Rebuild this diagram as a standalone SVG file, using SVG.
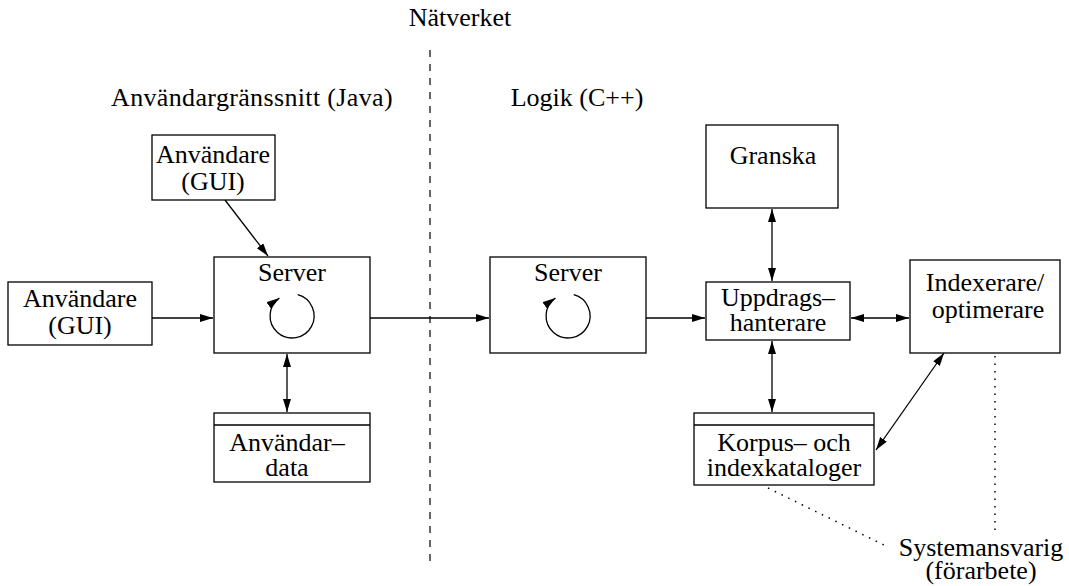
<svg xmlns="http://www.w3.org/2000/svg" width="1069" height="586" viewBox="0 0 1069 586">
<defs>
<style>
.b{fill:#fff;stroke:#000;stroke-width:1.3}
.l{fill:none;stroke:#000;stroke-width:1.3}
.t{font-family:'Liberation Serif','Times New Roman',Times,'DejaVu Serif',serif;font-size:26px;fill:#000;text-anchor:middle}
.dash{fill:none;stroke:#000;stroke-width:1.2;stroke-dasharray:7,7}
.dot{fill:none;stroke:#000;stroke-width:1.5;stroke-dasharray:1.5,6}
</style>
<marker id="a" markerUnits="userSpaceOnUse" markerWidth="14" markerHeight="10" refX="13" refY="4" orient="auto-start-reverse">
<path d="M0,0 L13,4 L0,8 z" fill="#000"/>
</marker>
</defs>
<rect width="1069" height="586" fill="#fff"/>

<g id="labels">
<text class="t" x="460" y="26">Nätverket</text>
<text class="t" x="252" y="106" letter-spacing="0.35">Användargränssnitt (Java)</text>
<text class="t" x="577" y="106">Logik (C++)</text>
</g>

<g id="connectors">
<line class="dash" x1="430" y1="50" x2="430" y2="562"/>
<line class="l" x1="225" y1="200" x2="268" y2="256" marker-end="url(#a)"/>
<line class="l" x1="152" y1="318" x2="213" y2="318" marker-end="url(#a)"/>
<line class="l" x1="370" y1="318" x2="489" y2="318" marker-end="url(#a)"/>
<line class="l" x1="646" y1="318" x2="705" y2="318" marker-end="url(#a)"/>
<line class="l" x1="287" y1="354" x2="287" y2="412" marker-start="url(#a)" marker-end="url(#a)"/>
<line class="l" x1="772" y1="209" x2="772" y2="281" marker-start="url(#a)" marker-end="url(#a)"/>
<line class="l" x1="851" y1="318" x2="909" y2="318" marker-start="url(#a)" marker-end="url(#a)"/>
<line class="l" x1="772" y1="341" x2="772" y2="412" marker-start="url(#a)" marker-end="url(#a)"/>
<line class="l" x1="876" y1="450" x2="944" y2="353" marker-start="url(#a)" marker-end="url(#a)"/>
<line class="dot" x1="995" y1="356" x2="995" y2="532"/>
<line class="dot" x1="768" y1="488" x2="886" y2="546"/>
</g>

<g id="anv-top">
<rect class="b" x="152" y="135" width="123" height="65"/>
<text class="t" x="213" y="163">Användare</text>
<text class="t" x="213" y="190">(GUI)</text>
</g>

<g id="anv-left">
<rect class="b" x="8" y="282" width="144" height="63"/>
<text class="t" x="80" y="307">Användare</text>
<text class="t" x="80" y="334">(GUI)</text>
</g>

<g id="server-java">
<rect class="b" x="214" y="257" width="156" height="96"/>
<text class="t" x="292" y="281">Server</text>
<path class="l" d="M297.7,294.7 A22,22 0 1 1 279.4,298" marker-end="url(#a)"/>
</g>

<g id="server-cpp">
<rect class="b" x="490" y="257" width="156" height="96"/>
<text class="t" x="568" y="281">Server</text>
<path class="l" d="M573.7,294.7 A22,22 0 1 1 555.4,298" marker-end="url(#a)"/>
</g>

<g id="anvdata">
<rect class="b" x="214" y="413" width="156" height="69"/>
<line class="l" x1="214" y1="425" x2="370" y2="425"/>
<text class="t" x="287" y="451">Användar–</text>
<text class="t" x="287" y="476">data</text>
</g>

<g id="granska">
<rect class="b" x="706" y="125" width="132" height="83"/>
<text class="t" x="773" y="164">Granska</text>
</g>

<g id="uppdrag">
<rect class="b" x="706" y="282" width="144" height="58"/>
<text class="t" x="778" y="306">Uppdrags–</text>
<text class="t" x="778" y="331">hanterare</text>
</g>

<g id="indexerare">
<rect class="b" x="910" y="260" width="150" height="93"/>
<text class="t" x="985" y="291">Indexerare/</text>
<text class="t" x="988" y="318">optimerare</text>
</g>

<g id="korpus">
<rect class="b" x="694" y="413" width="180" height="72"/>
<line class="l" x1="694" y1="425" x2="874" y2="425"/>
<text class="t" x="784" y="451">Korpus– och</text>
<text class="t" x="784" y="476">indexkataloger</text>
</g>

<g id="sysansv">
<text class="t" x="981" y="556">Systemansvarig</text>
<text class="t" x="981" y="579">(förarbete)</text>
</g>
</svg>
